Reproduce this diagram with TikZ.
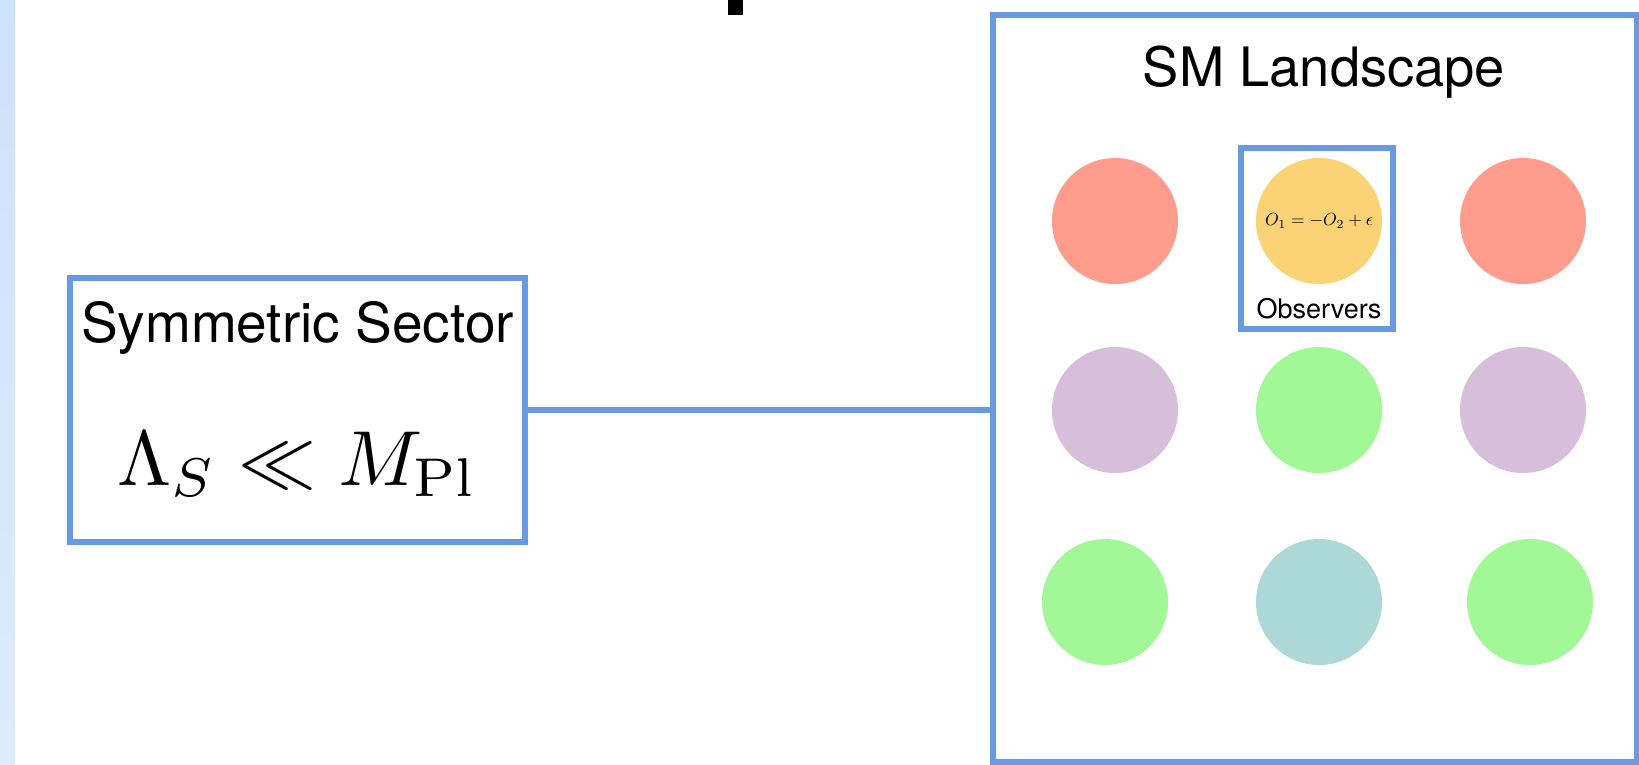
\documentclass[tikz,border=0pt]{standalone}
\usepackage{amsmath,amssymb}
\usepackage{graphicx}
\usepackage{fontspec}
\newfontfamily\hv{TeX Gyre Heros}
\definecolor{bborder}{RGB}{104,153,226}
\definecolor{cred}{RGB}{255,156,140}
\definecolor{corange}{RGB}{252,210,118}
\definecolor{cpurple}{RGB}{215,190,218}
\definecolor{cgreen}{RGB}{162,247,150}
\definecolor{cteal}{RGB}{173,216,216}
\definecolor{stripA}{RGB}{204,226,251}
\definecolor{stripB}{RGB}{222,235,253}
\tikzset{
  bluebox/.style={draw=bborder, line width=6pt, fill=white, inner sep=0pt, outer sep=0pt},
  dot/.style={circle, minimum size=126pt, inner sep=0pt, draw=none},
  conn/.style={draw=bborder, line width=5.5pt},
  lbl/.style={inner sep=0pt, anchor=base},
}
\begin{document}
\begin{tikzpicture}[x=1pt,y=-1pt]
\useasboundingbox (0,0) rectangle (1639,764);
\fill[white] (0,0) rectangle (1639,764);
\shade[top color=stripA, bottom color=stripB] (0,0) rectangle (15,764);
% fragment of cut-off title
\fill[black] (728,0) rectangle (743,15);
% boxes
\node[bluebox, minimum width=455pt, minimum height=264pt] (sec) at (297.5,410) {};
\node[bluebox, minimum width=644pt, minimum height=747pt] (land) at (1315,388.5) {};
\draw[conn] (sec.east) -- (sec.east -| land.west);
% texts in sector box
\node[lbl] (sectitle) at (297.5,342) {\hv\fontsize{55}{60}\selectfont Symmetric Sector};
\node[lbl] (secmath) at (297.5,485) {\scalebox{7.8}{$\Lambda_S \ll M_{\mathrm{Pl}}$}};
% landscape
\node[lbl] (landtitle) at (1324,86) {\hv\fontsize{54.3}{60}\selectfont SM Landscape};
\node[bluebox, line width=5.5pt, fill=none, minimum width=152pt, minimum height=181pt] (obsbox) at (1317,238.5) {};
\node[dot, fill=cred] (c11) at (1115,221) {};
\node[dot, fill=corange] (c12) at (1319,221) {};
\node[dot, fill=cred] (c13) at (1523,221) {};
\node[dot, fill=cpurple] (c21) at (1115,410) {};
\node[dot, fill=cgreen] (c22) at (1319,410) {};
\node[dot, fill=cpurple] (c23) at (1523,410) {};
\node[dot, fill=cgreen] (c31) at (1105,602) {};
\node[dot, fill=cteal] (c32) at (1319,602) {};
\node[dot, fill=cgreen] (c33) at (1530,602) {};
\node[inner sep=0pt] (eq) at (c12) {\scalebox{1.75}{$O_1=-O_2+\epsilon$}};
\node[lbl] (obs) at (1319,318) {\hv\fontsize{27}{30}\selectfont Observers};
\end{tikzpicture}
\end{document}
